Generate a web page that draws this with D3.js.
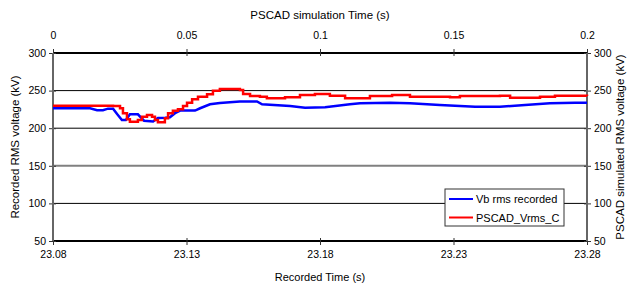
<!DOCTYPE html>
<html>
<head>
<meta charset="utf-8">
<script src="https://cdn.jsdelivr.net/npm/d3@7"></script>
<style>
  body { margin: 0; background: #fff; }
  svg { font-family: "Liberation Sans", Arial, sans-serif; }
  .axis text { font-size: 10.5px; fill: #000; }
  .axis path { display: none; }
</style>
</head>
<body>
<svg id="chart"></svg>
<script>
// recorded signal (bottom / left axes)
const recTime = [23.08, 23.0939, 23.0965, 23.0987, 23.1006, 23.1025, 23.104, 23.1058, 23.1073, 23.1088,
  23.1118, 23.1141, 23.1175, 23.1193, 23.122, 23.1238, 23.1257, 23.1276, 23.1332, 23.1351,
  23.1388, 23.1425, 23.15, 23.1564, 23.1583, 23.1688, 23.1744, 23.1819, 23.1912, 23.195,
  23.2062, 23.2137, 23.2249, 23.2381, 23.2474, 23.2568, 23.2661, 23.2755, 23.28];
const recVolt = [226.5, 226.5, 224, 224, 226, 226, 219, 211, 211, 218.5,
  218.5, 210, 209, 213.5, 214, 214.5, 220, 223.5, 223.5, 226.5,
  231.8, 233.5, 235.5, 235.5, 231.8, 229.5, 227.3, 227.8, 231.8, 233.1,
  233.9, 233.1, 230.9, 228.6, 228.6, 230.9, 233.1, 233.9, 233.9];

// PSCAD simulation (top / right axes)
const simTime = [0, 0.0225, 0.0251, 0.0262, 0.0277, 0.0288, 0.0307, 0.0318, 0.0333, 0.0352,
  0.0371, 0.0382, 0.0393, 0.0408, 0.0419, 0.0431, 0.0449, 0.0468, 0.0487, 0.0502,
  0.0521, 0.0543, 0.0577, 0.0599, 0.0625, 0.07, 0.0712, 0.0738, 0.0775, 0.0801,
  0.0869, 0.0925, 0.0981, 0.1037, 0.1094, 0.1187, 0.127, 0.1337, 0.1487, 0.1524,
  0.1674, 0.1712, 0.1798, 0.1824, 0.188, 0.2];
const simVolt = [229.9, 229.5, 226.5, 219.8, 211.8, 208.6, 208.6, 210.9, 215.3, 217.6,
  215.3, 210.9, 207.8, 207.8, 213.2, 219.8, 223.3, 225.1, 229.5, 233.9,
  238.4, 241.9, 245.1, 249.9, 252.1, 250.8, 245.5, 242.8, 241.9, 239.8,
  241.1, 244.1, 245.5, 243.2, 239.8, 242.8, 244.1, 241.9, 241.1, 242.8,
  243.2, 240.6, 240.6, 241.9, 243.2, 242.8];

const voltTicks = [50, 100, 150, 200, 250, 300];
const recTicks = [23.08, 23.13, 23.18, 23.23, 23.28];
const simTicks = [0, 0.05, 0.1, 0.15, 0.2];
const seriesNames = ["Vb rms recorded", "PSCAD_Vrms_C"];
const colors = ["#0000ff", "#ff0000"];

const W = 629, H = 287;
const m = {left: 53, right: 42, top: 53, bottom: 46};

const svg = d3.select("#chart").attr("width", W).attr("height", H);

let xRec = d3.scaleLinear().domain([23.08, 23.28]).range([m.left, W - m.right]);
let xSim = d3.scaleLinear().domain([0, 0.2]).range([m.left, W - m.right]);
let yL = d3.scaleLinear().domain([50, 300]).range([H - m.bottom, m.top]);
let yR = d3.scaleLinear().domain([50, 300]).range([H - m.bottom, m.top]);

// gridlines
svg.append("g").selectAll("line")
  .data(voltTicks).enter().append("line")
  .attr("x1", m.left).attr("x2", W - m.right)
  .attr("y1", d => yL(d)).attr("y2", d => yL(d))
  .attr("stroke", d => d == 150 ? "#808080" : "#000")
  .attr("stroke-width", d => (d == 150 || d == 50 || d == 300) ? 2 : 1);

// axes
let gLeft = svg.append("g").attr("class", "axis")
  .attr("transform", `translate(${m.left},0)`)
  .call(d3.axisLeft(yL).tickValues(voltTicks).tickSize(4).tickPadding(3));
let gRight = svg.append("g").attr("class", "axis")
  .attr("transform", `translate(${W - m.right},0)`)
  .call(d3.axisRight(yR).tickValues(voltTicks).tickSize(4).tickPadding(3));
let gBottom = svg.append("g").attr("class", "axis")
  .attr("transform", `translate(0,${H - m.bottom})`)
  .call(d3.axisBottom(xRec).tickValues(recTicks).tickFormat(d3.format(".2f")).tickSize(4).tickPadding(6));
let gTop = svg.append("g").attr("class", "axis")
  .attr("transform", `translate(0,${m.top})`)
  .call(d3.axisTop(xSim).tickValues(simTicks).tickFormat(d => d3.format("")(+d.toFixed(2))).tickSize(4).tickPadding(10));

// ticks cross the axis line
gLeft.selectAll(".tick line").attr("x1", 3).attr("stroke", "#333");
gRight.selectAll(".tick line").attr("x1", -3).attr("stroke", "#333");
gBottom.selectAll(".tick line").attr("y1", -3).attr("stroke", "#333");
gTop.selectAll(".tick line").attr("y1", 3).attr("stroke", "#333");

// vertical axis lines
[m.left, W - m.right].forEach(x => {
  svg.append("line").attr("x1", x).attr("x2", x)
    .attr("y1", m.top).attr("y2", H - m.bottom)
    .attr("stroke", "#666").attr("stroke-width", 2);
});

// series
let lineRec = d3.line().x(d => xRec(d[0])).y(d => yL(d[1]));
let lineSim = d3.line().x(d => xSim(d[0])).y(d => yR(d[1])).curve(d3.curveStepAfter);

svg.append("path").datum(d3.zip(recTime, recVolt))
  .attr("d", lineRec).attr("fill", "none")
  .attr("stroke", colors[0]).attr("stroke-width", 2.5);
svg.append("path").datum(d3.zip(simTime, simVolt))
  .attr("d", lineSim).attr("fill", "none")
  .attr("stroke", colors[1]).attr("stroke-width", 2.5);

// axis titles
svg.append("text").attr("x", (m.left + W - m.right) / 2).attr("y", 19)
  .attr("text-anchor", "middle").attr("font-size", 11.5).text("PSCAD simulation Time (s)");
svg.append("text").attr("x", (m.left + W - m.right) / 2).attr("y", 281)
  .attr("text-anchor", "middle").attr("font-size", 11).text("Recorded Time (s)");
svg.append("text").attr("transform", `translate(19,${(m.top + H - m.bottom) / 2}) rotate(-90)`)
  .attr("text-anchor", "middle").attr("font-size", 11.5).text("Recorded RMS voltage (kV)");
svg.append("text").attr("transform", `translate(624,${(m.top + H - m.bottom) / 2}) rotate(-90)`)
  .attr("text-anchor", "middle").attr("font-size", 11.5).text("PSCAD simulated RMS voltage (kV)");

// legend
let lg = svg.append("g").attr("transform", "translate(445,189)");
lg.append("rect").attr("width", 119).attr("height", 37)
  .attr("fill", "#fff").attr("stroke", "#333").attr("stroke-width", 1);
seriesNames.forEach((name, i) => {
  let yy = 10 + i * 18.5;
  lg.append("line").attr("x1", 4).attr("x2", 28).attr("y1", yy).attr("y2", yy)
    .attr("stroke", colors[i]).attr("stroke-width", 2);
  lg.append("text").attr("x", 31).attr("y", yy + 4)
    .attr("font-size", 11).text(name);
});
</script>
</body>
</html>
